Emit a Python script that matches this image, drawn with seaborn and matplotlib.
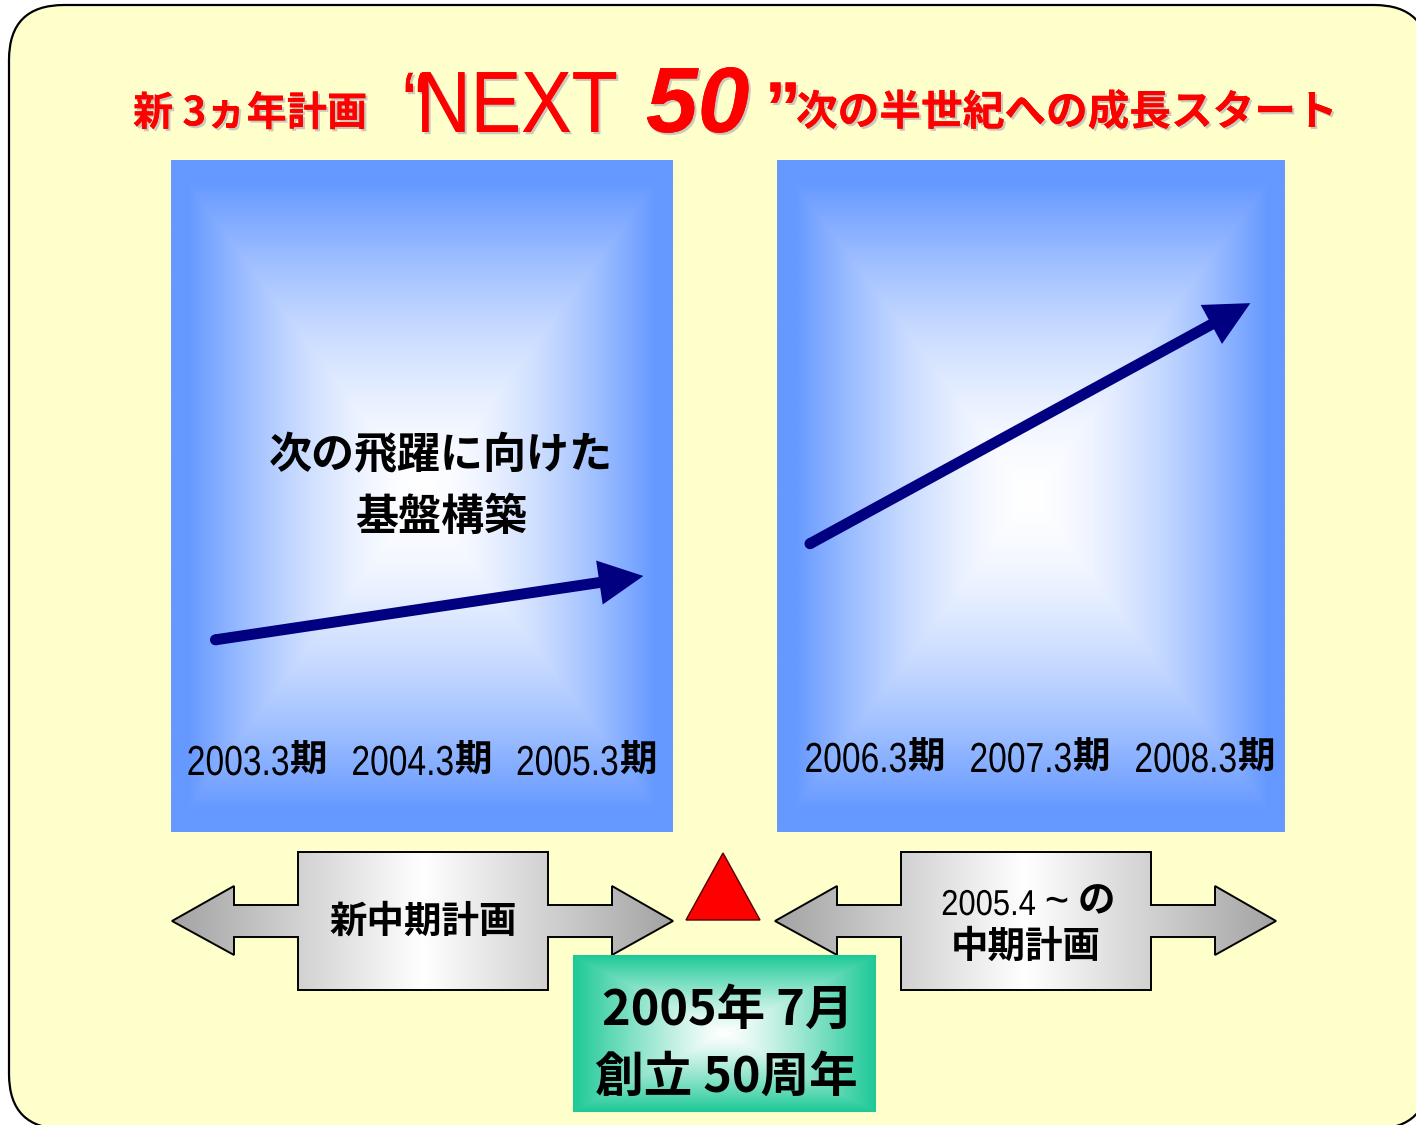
import numpy as np
import pandas as pd
import matplotlib
matplotlib.use("Agg")
import matplotlib.pyplot as plt
import seaborn as sns
from matplotlib import patches
from matplotlib import patheffects as pe
from matplotlib.textpath import TextPath
from matplotlib.font_manager import FontProperties
from matplotlib.transforms import Affine2D

# ---------------- content ----------------
title_prefix = "新 3ヵ年計画"
title_next = "NEXT"
title_num = "50"
title_suffix = "次の半世紀への成長スタート"

left_periods = ["2003.3", "2004.3", "2005.3"]
right_periods = ["2006.3", "2007.3", "2008.3"]
period_suffix = "期"

left_plan_name = "新中期計画"
right_plan_date = "2005.4"
right_plan_tilde = "~"
right_plan_kana = "の"
right_plan_name = "中期計画"

panel_caption = ["次の飛躍に向けた", "基盤構築"]
anniversary = ["2005年 7月", "創立 50周年"]

# growth trend of each plan: period position -> growth index (0-100)
left_trend_x = [-0.25, 2.35]
left_trend_y = [28.6, 38.1]
right_trend_x = [-0.39, 2.28]
right_trend_y = [42.9, 78.7]

# ---------------- style ----------------
W, H = 1416, 1125
CJK = "Noto Sans CJK JP"
LATIN = "Liberation Sans"

sns.set_theme(style="white")
plt.rcParams["font.family"] = [CJK, "DejaVu Sans"]

BG_YELLOW = "#FFFFCC"
PANEL_BLUE = (0x66 / 255, 0x99 / 255, 1.0)
GREEN_EDGE = (0x1D / 255, 0xC9 / 255, 0x97 / 255)
NAVY = "#000080"
RED = "#FF0000"


def rect_gradient(nx, ny, edge, center=(1, 1, 1), outer=1.0, power=1.0):
    u = np.linspace(-1, 1, nx)
    v = np.linspace(-1, 1, ny)
    U, V = np.meshgrid(u, v)
    t = np.maximum(np.abs(U), np.abs(V))
    t = np.clip(t / outer, 0, 1) ** power
    c = np.array(center)[None, None, :]
    e = np.array(edge)[None, None, :]
    return c * (1 - t[..., None]) + e * t[..., None]


def px_rect(x0, y0, x1, y1):
    return [x0 / W, 1 - y1 / H, (x1 - x0) / W, (y1 - y0) / H]


def path_text(ax, x, baseline, s, em, family=LATIN, weight="normal",
              style="normal", sx=1.0, ha="left", color="black", zorder=5,
              effects=None):
    """Glyph outlines in pixel coordinates (y downwards), optionally condensed."""
    fp = FontProperties(family=family, weight=weight, style=style)
    tp = TextPath((0, 0), s, size=em, prop=fp)
    ext = tp.get_extents()
    if ha == "left":
        x0 = x
    elif ha == "right":
        x0 = x - ext.x1 * sx
    else:
        x0 = x - 0.5 * (ext.x0 + ext.x1) * sx
    path = Affine2D().scale(sx, -1).translate(x0, baseline).transform_path(tp)
    patch = patches.PathPatch(path, fc=color, ec="none", lw=0, zorder=zorder)
    if effects:
        patch.set_path_effects(effects)
    ax.add_patch(patch)
    return patch


fig = plt.figure(figsize=(W / 100, H / 100), dpi=100)
fig.patch.set_facecolor("white")

# ---------------- background canvas (pixel coordinates) ----------------
bg = fig.add_axes([0, 0, 1, 1])
bg.set_xlim(0, W)
bg.set_ylim(H, 0)
bg.axis("off")

frame = patches.FancyBboxPatch((9, 5), 1420, 1124,
                               boxstyle="round,pad=0,rounding_size=55",
                               fc=BG_YELLOW, ec="black", lw=1.6, zorder=0)
bg.add_patch(frame)

# title line
shadow = [pe.withSimplePatchShadow(offset=(1.6, -1.6), shadow_rgbFace="#8888aa", alpha=0.45),
          pe.Normal()]
bg.text(133, 114, title_prefix, color=RED, fontsize=29, fontweight="bold",
        ha="left", va="center", family=[CJK], path_effects=shadow)
path_text(bg, 403, 132, "\u201c", 86, sx=0.87, color=RED, effects=shadow)
path_text(bg, 416, 132, title_next, 87, sx=0.87, color=RED, effects=shadow)
path_text(bg, 646, 132, title_num, 93, weight="bold", style="italic",
          color=RED, effects=shadow)
path_text(bg, 765, 132, "\u201d", 72, weight="bold", color=RED, effects=shadow)
bg.text(796, 113, title_suffix, color=RED, fontsize=30, fontweight="bold",
        ha="left", va="center", family=[CJK], path_effects=shadow)

# double-headed plan arrows
arrow_shape = np.array([
    (172, 921), (234, 886), (234, 905), (298, 905), (298, 852), (548, 852),
    (548, 905), (612, 905), (612, 886), (673, 921), (612, 955), (612, 937),
    (548, 937), (548, 990), (298, 990), (298, 937), (234, 937), (234, 955)],
    dtype=float)


def plan_arrow(dx):
    pts = arrow_shape + np.array([dx, 0])
    poly = patches.Polygon(pts, closed=True, fc="none", ec="black", lw=1.4, zorder=3)
    bg.add_patch(poly)
    x0, x1 = pts[:, 0].min(), pts[:, 0].max()
    y0, y1 = pts[:, 1].min(), pts[:, 1].max()
    u = np.abs(np.linspace(-1, 1, 400))
    g = 1 - 0.36 * u
    img = np.repeat(np.repeat(g[None, :, None], 3, axis=2), 2, axis=0)
    im = bg.imshow(img, extent=(x0, x1, y1, y0), aspect="auto", zorder=2,
                   interpolation="bilinear")
    clip = patches.Polygon(pts, closed=True, transform=bg.transData)
    im.set_clip_path(clip)


plan_arrow(0)
plan_arrow(603)

bg.text(423, 921, left_plan_name, fontsize=27, fontweight="bold",
        ha="center", va="center", color="black", family=[CJK], zorder=4)
path_text(bg, 1035, 915, right_plan_date, 36, sx=0.86, ha="right", zorder=4)
path_text(bg, 1057, 915, right_plan_tilde, 46, sx=0.9, ha="center", zorder=4)
bg.text(1078, 901, right_plan_kana, fontsize=27, fontweight="bold",
        ha="left", va="center", color="black", family=[CJK], zorder=4)
bg.text(1026, 946, right_plan_name, fontsize=27, fontweight="bold",
        ha="center", va="center", color="black", family=[CJK], zorder=4)

# founding marker
tri = patches.Polygon([(686, 920), (760, 920), (723, 853)], closed=True,
                      fc=RED, ec="#550000", lw=1.0, zorder=3)
bg.add_patch(tri)

# anniversary box
gimg = rect_gradient(300, 160, GREEN_EDGE, power=1.2)
bg.imshow(gimg, extent=(573, 876, 1112, 955), aspect="auto", zorder=3,
          interpolation="bilinear")
bg.text(728, 1010, anniversary[0], fontsize=35, fontweight="bold", ha="center",
        va="center", color="black", family=[CJK], zorder=4)
bg.text(726, 1077, anniversary[1], fontsize=35, fontweight="bold", ha="center",
        va="center", color="black", family=[CJK], zorder=4)
bg.set_xlim(0, W)
bg.set_ylim(H, 0)

# overlay for period labels above the panels
top = fig.add_axes([0, 0, 1, 1], zorder=10)
top.set_xlim(0, W)
top.set_ylim(H, 0)
top.axis("off")
top.patch.set_alpha(0)


# ---------------- plan panels ----------------
def plan_panel(box, xlim, periods, tx, ty, label_baseline, caption=None):
    ax = fig.add_axes(px_rect(*box))
    ax.set_xlim(*xlim)
    ax.set_ylim(0, 100)
    ax.axis("off")
    img = rect_gradient(400, 500, PANEL_BLUE, outer=0.93, power=1.6)
    ax.imshow(img, extent=(xlim[0], xlim[1], 0, 100), aspect="auto",
              interpolation="bilinear", zorder=0)
    ax.set_xlim(*xlim)
    ax.set_ylim(0, 100)

    # growth trend arrow
    ax.annotate("", xy=(tx[1], ty[1]), xytext=(tx[0], ty[0]),
                arrowprops=dict(arrowstyle="simple,head_length=32,head_width=32,tail_width=7.9",
                                mutation_scale=1, fc=NAVY, ec=NAVY, lw=0,
                                shrinkA=0, shrinkB=0), zorder=3)
    sns.scatterplot(x=[tx[0]], y=[ty[0]], ax=ax, s=62, color=NAVY,
                    edgecolor="none", zorder=3, legend=False)

    # fiscal period labels, one per period slot
    for i, p in enumerate(periods):
        cx = ax.transData.transform((i, 0))[0]
        path_text(top, cx + 31.5, label_baseline, p, 42, sx=0.8, ha="right")
        top.text(cx + 33, label_baseline - 15, period_suffix, fontsize=27,
                 fontweight="bold", ha="left", va="center", family=[CJK],
                 color="black")
    if caption:
        ax.text(0.538, 0.561, caption[0], transform=ax.transAxes, fontsize=31,
                fontweight="bold", ha="center", va="center", color="black")
        ax.text(0.538, 0.469, caption[1], transform=ax.transAxes, fontsize=31,
                fontweight="bold", ha="center", va="center", color="black")
    return ax


plan_panel((171, 160, 673, 832), (-0.52, 2.53), left_periods,
           left_trend_x, left_trend_y, 775, panel_caption)
plan_panel((777, 160, 1285, 832), (-0.59, 2.49), right_periods,
           right_trend_x, right_trend_y, 772)

fig.savefig("out.png", dpi=100)
